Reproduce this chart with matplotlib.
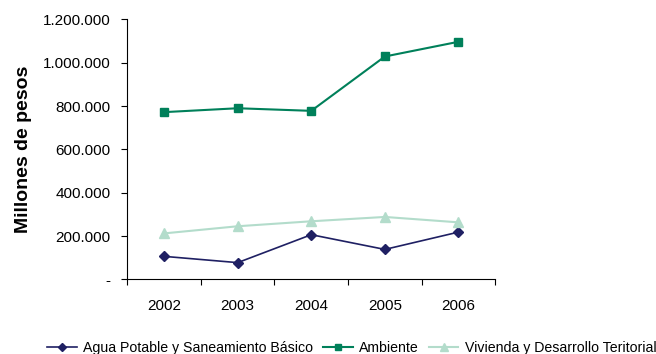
import numpy as np
import matplotlib.pyplot as plt
from matplotlib.ticker import FuncFormatter, FixedLocator

plt.rcParams['font.family'] = ['Liberation Sans', 'DejaVu Sans']

years = ['2002', '2003', '2004', '2005', '2006']
agua = [106000, 77000, 206000, 138000, 218000]
ambiente = [772000, 790000, 778000, 1029000, 1097000]
vivienda = [212000, 245000, 268000, 288000, 263000]


def miles(v, pos):
    if v == 0:
        return '-'
    return '{:,.0f}'.format(v).replace(',', '.')


fig = plt.figure(figsize=(6.56, 3.54), dpi=100)
ax = fig.add_axes([0.194, 0.211, 0.561, 0.734])

x = np.arange(len(years))
ax.plot(x, agua, color='#1f2063', marker='D', markersize=5, lw=1.2,
        label='Agua Potable y Saneamiento Básico')
ax.plot(x, ambiente, color='#00805a', marker='s', markersize=5.5, lw=1.5,
        label='Ambiente')
ax.plot(x, vivienda, color='#b3dccb', marker='^', markersize=6.5, lw=1.5,
        label='Vivienda y Desarrollo Teritorial')

ax.set_xlim(-0.5, len(years) - 0.5)
ax.set_ylim(0, 1200000)
ax.set_yticks(np.arange(0, 1200001, 200000))
ax.yaxis.set_major_formatter(FuncFormatter(miles))
ax.set_xticks(x)
ax.set_xticklabels(years)
ax.xaxis.set_minor_locator(FixedLocator(np.arange(-0.5, len(years), 1.0)))
ax.tick_params(axis='x', which='major', length=0, pad=14, labelsize=11)
ax.tick_params(axis='x', which='minor', length=4, width=0.8, direction='out')
ax.tick_params(axis='y', length=4, width=0.8, direction='out', labelsize=11, pad=8)

for s in ['top', 'right']:
    ax.spines[s].set_visible(False)
for s in ['left', 'bottom']:
    ax.spines[s].set_linewidth(0.8)

ax.set_ylabel('Millones de pesos', fontsize=14, fontweight='bold', labelpad=8)

fig.legend(loc='center', bbox_to_anchor=(0.536, 0.018), ncol=3,
           frameon=False, fontsize=10.2, handlelength=2.1, columnspacing=0.7,
           handletextpad=0.45, borderpad=0, markerscale=0.85)

fig.savefig('out.png', dpi=100)
